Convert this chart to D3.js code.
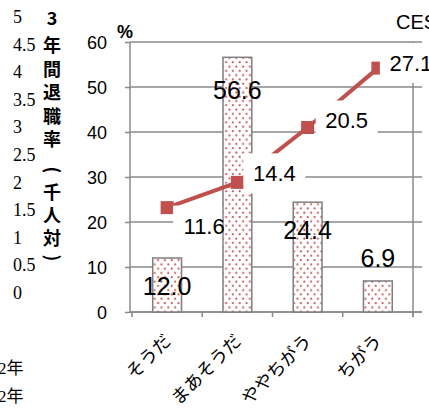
<!DOCTYPE html>
<html><head><meta charset="utf-8">
<script src="https://cdn.jsdelivr.net/npm/d3@7"></script>
<style>
html,body{margin:0;padding:0;background:#fff;overflow:hidden}
svg{display:block}
</style></head>
<body>
<script>
const categories = ["そうだ", "まあそうだ", "ややちがう", "ちがう"];
const barValues = [12.0, 56.6, 24.4, 6.9];
const lineValues = [11.6, 14.4, 20.5, 27.1];
const yTicks = [0, 10, 20, 30, 40, 50, 60];
const leftScaleLabels = ["5", "4.5", "4", "3.5", "3", "2.5", "2", "1.5", "1", "0.5", "0"];
const titleChars = ["3", "年", "間", "退", "職", "率", "(", "千", "人", "対", ")"];
const unitLabel = "%";
const cornerText = "CES";
const strayLabels = ["2年", "2年"];

// layout (not data)
const barLabelDy = [28, 33, 28, -23];
const lineLabelDy = [18, -9, -7, -5];
const lineLabelDx = [37, 37, 39, 33];
const titleY = [19, 46, 70, 93, 117, 140, 170, 193, 216, 239, 258];

const W = 429, H = 409;
const svg = d3.select("body").append("svg").attr("width", W).attr("height", H);

const x = d3.scaleBand().domain(categories).range([132, 413]).paddingInner(0).paddingOuter(0);
const barW = x.bandwidth() * 0.41;
const y = d3.scaleLinear().domain([0, 60]).range([312, 42]);
const y2 = d3.scaleLinear().domain([0, 30]).range([312, 42]);

const defs = svg.append("defs");
const pat = defs.append("pattern").attr("id", "dots").attr("patternUnits", "userSpaceOnUse")
  .attr("width", 6.8).attr("height", 8.6);
pat.append("rect").attr("width", 6.8).attr("height", 8.6).attr("fill", "#fff");
pat.append("circle").attr("cx", 1.7).attr("cy", 2.1).attr("r", 1.05).attr("fill", "#c0504d");
pat.append("circle").attr("cx", 5.1).attr("cy", 6.4).attr("r", 1.05).attr("fill", "#c0504d");

const gridColor = "#8a8a8a";

// gridlines
svg.append("g").selectAll("line").data(yTicks).join("line")
  .attr("x1", 130).attr("x2", 422).attr("y1", d => y(d)).attr("y2", d => y(d))
  .attr("stroke", gridColor).attr("stroke-width", 1.5);

// y axis
const yAxis = svg.append("g").attr("transform", "translate(130,0)")
  .call(d3.axisLeft(y).tickValues(yTicks).tickSize(5).tickPadding(18).tickFormat(d3.format("d")));
yAxis.select(".domain").remove();
yAxis.selectAll(".tick line").attr("stroke", gridColor).attr("stroke-width", 1.5);
yAxis.selectAll("text").attr("font-family", "Liberation Sans, Arial, sans-serif")
  .attr("font-size", 18).attr("fill", "#000").attr("dy", "0.36em");
svg.append("line").attr("x1", 130).attr("x2", 130).attr("y1", y(60)).attr("y2", y(0) + 1)
  .attr("stroke", gridColor).attr("stroke-width", 1.5);

// category axis line & boundary ticks
svg.append("line").attr("x1", 130).attr("x2", 422).attr("y1", y(0)).attr("y2", y(0))
  .attr("stroke", gridColor).attr("stroke-width", 1.5);
const bounds = categories.map(c => x(c)).concat([x(categories[categories.length - 1]) + x.bandwidth()]);
svg.append("g").selectAll("line").data(bounds).join("line")
  .attr("x1", d => d).attr("x2", d => d).attr("y1", y(0)).attr("y2", y(0) + 5)
  .attr("stroke", gridColor).attr("stroke-width", 1.5);
svg.append("line").attr("x1", bounds[4]).attr("x2", bounds[4]).attr("y1", y(60)).attr("y2", y(0) + 5)
  .attr("stroke", gridColor).attr("stroke-width", 1.5);

const cx = i => x(categories[i]) + x.bandwidth() / 2;

// bars
svg.append("g").selectAll("rect").data(barValues).join("rect")
  .attr("x", (d, i) => x(categories[i]) + x.bandwidth() / 2 - barW / 2)
  .attr("width", barW)
  .attr("y", d => y(d)).attr("height", d => y(0) - y(d))
  .attr("fill", "url(#dots)").attr("stroke", "#7f7f7f").attr("stroke-width", 1.5);

// line
svg.append("path").datum(lineValues)
  .attr("d", d3.line().x((d, i) => cx(i)).y(d => y2(d)))
  .attr("fill", "none").attr("stroke", "#c0504d").attr("stroke-width", 4);
svg.append("g").selectAll("rect").data(lineValues).join("rect")
  .attr("x", (d, i) => cx(i) - 6.5).attr("y", d => y2(d) - 6.5)
  .attr("width", 13).attr("height", 13).attr("fill", "#c0504d");

// line labels with white boxes
const ll = svg.append("g").selectAll("g").data(lineValues).join("g")
  .attr("transform", (d, i) => `translate(${cx(i) + lineLabelDx[i]},${y2(d) + lineLabelDy[i]})`);
ll.append("rect").attr("x", -31).attr("y", -20).attr("width", (d, i) => i === 0 ? 49 : 62).attr("height", 40).attr("fill", "#fff");
ll.append("text").text(d => d3.format(".1f")(d))
  .attr("text-anchor", "middle").attr("dy", "0.36em")
  .attr("font-family", "Liberation Sans, Arial, sans-serif").attr("font-size", 22).attr("fill", "#000");

// bar labels
svg.append("g").selectAll("text").data(barValues).join("text")
  .attr("x", (d, i) => cx(i)).attr("y", (d, i) => y(d) + barLabelDy[i])
  .attr("dy", "0.36em").attr("text-anchor", "middle")
  .attr("font-family", "Liberation Sans, Arial, sans-serif").attr("font-size", 25).attr("fill", "#000")
  .text(d => d3.format(".1f")(d));

// category labels
const xAxis = svg.append("g").attr("transform", `translate(0,${y(0)})`)
  .call(d3.axisBottom(x).tickSize(0).tickPadding(0));
xAxis.select(".domain").remove();
xAxis.selectAll("text")
  .attr("font-family", "Noto Sans CJK JP, sans-serif").attr("font-size", 18).attr("fill", "#000")
  .attr("text-anchor", "end").attr("dy", 0).attr("y", 0)
  .attr("transform", "translate(5,30) rotate(-45)");

// unit label
svg.append("text").attr("x", 117).attr("y", 38).text(unitLabel)
  .attr("font-family", "Liberation Sans, Arial, sans-serif").attr("font-size", 18).attr("font-weight", "bold");

// corner text
svg.append("text").attr("x", 396).attr("y", 29).text(cornerText)
  .attr("font-family", "Liberation Sans, Arial, sans-serif").attr("font-size", 20);

// left stray scale labels
const leftScale = d3.scalePoint().domain(leftScaleLabels).range([17, 293]);
svg.append("g").selectAll("text").data(leftScaleLabels).join("text")
  .attr("x", 13).attr("y", d => leftScale(d)).attr("dy", "0.33em").text(d => d)
  .style("font-family", "'Liberation Serif', 'Times New Roman', serif")
  .style("font-size", "18px").attr("fill", "#000");

// vertical title
svg.append("g").selectAll("text").data(titleChars).join("text")
  .attr("transform", (d, i) => `translate(52,${titleY[i]})` + (d === "(" || d === ")" ? " rotate(90)" : ""))
  .attr("dy", "0.36em").attr("text-anchor", "middle")
  .text(d => d)
  .attr("font-family", "Noto Sans CJK JP, sans-serif").attr("font-size", 18).attr("font-weight", "bold");

// stray bottom-left text
svg.append("g").selectAll("text").data(strayLabels).join("text")
  .attr("x", -2).attr("y", (d, i) => 374 + i * 28).text(d => d)
  .style("font-family", "'Liberation Serif', 'Noto Sans CJK JP', serif")
  .style("font-size", "17px");
</script>
</body></html>
